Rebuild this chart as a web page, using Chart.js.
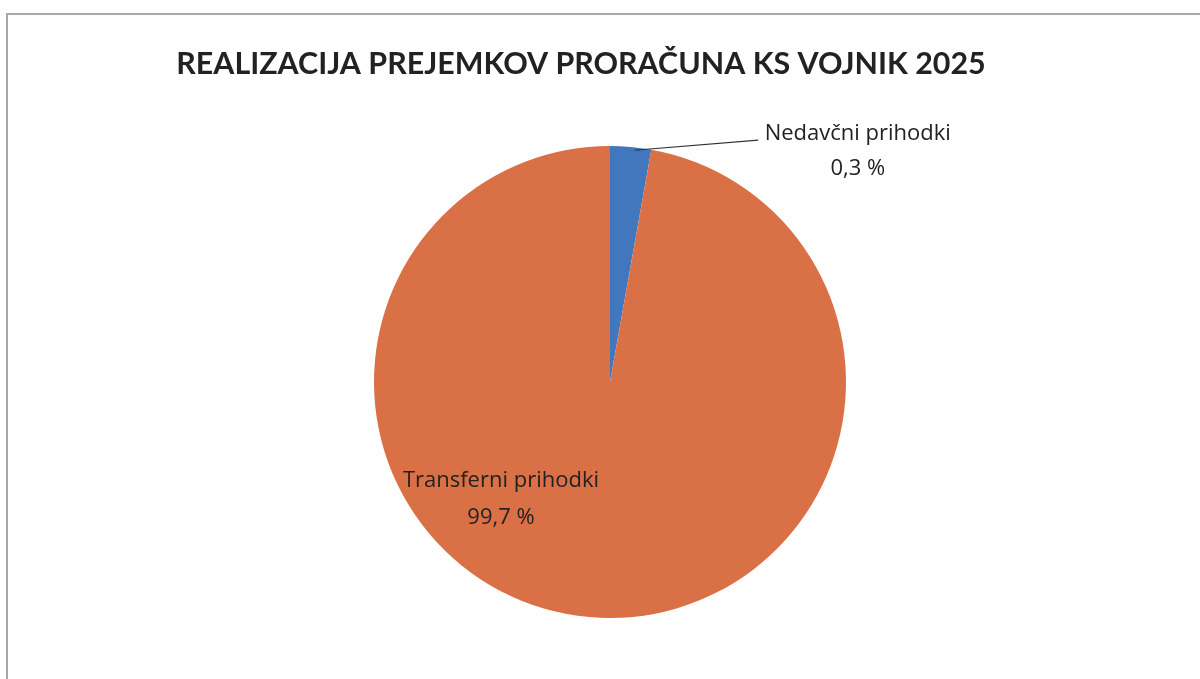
<!DOCTYPE html>
<html>
<head>
<meta charset="utf-8">
<script src="https://cdn.jsdelivr.net/npm/chart.js@4/dist/chart.umd.min.js"></script>
<style>
  html, body { margin: 0; padding: 0; background: #fff; overflow: hidden; }
  #wrap { position: relative; width: 1200px; height: 679px; }
  #frame { position: absolute; left: 6px; top: 13px; right: -10px; bottom: -10px;
           border-left: 2px solid #a8a8a8; border-top: 2px solid #a8a8a8; }
  canvas { position: absolute; left: 0; top: 0; }
</style>
</head>
<body>
<div id="wrap">
  <div id="frame"></div>
  <canvas id="c" width="1200" height="679"></canvas>
</div>
<script>
// ---- data ----
const chartTitle = 'REALIZACIJA PREJEMKOV PRORAČUNA KS VOJNIK 2025';
const categories = ['Nedavčni prihodki', 'Transferni prihodki'];
// slice sizes as drawn in the picture (the small slice spans about 10 degrees)
const sliceValues = [2.8, 97.2];
// percentage labels as printed on the picture
const percentLabels = ['0,3 %', '99,7 %'];
const sliceColors = ['#4277BD', '#DA7045'];

const TITLE_FONT = 'Lato, "Open Sans", sans-serif';
const LABEL_FONT = '"Open Sans", Lato, sans-serif';

const labelPlugin = {
  id: 'labels',
  afterDraw(chart) {
    const ctx = chart.ctx;
    const meta = chart.getDatasetMeta(0);
    const a0 = meta.data[0];
    const cx = a0.x, cy = a0.y, r = a0.outerRadius;
    ctx.save();
    // title
    ctx.fillStyle = '#222222';
    ctx.font = 'bold 30.4px ' + TITLE_FONT;
    ctx.textAlign = 'center';
    ctx.textBaseline = 'middle';
    ctx.fillText(chartTitle, 581, 64);

    // label for small slice with leader line
    const mid0 = (a0.startAngle + a0.endAngle) / 2;
    const px = cx + Math.cos(mid0) * r * 0.99;
    const py = cy + Math.sin(mid0) * r * 0.99;
    const lx = cx + r * 0.628, ly = cy - r * 1.025;
    ctx.strokeStyle = '#333333';
    ctx.lineWidth = 1.2;
    ctx.beginPath();
    ctx.moveTo(px + 4, py + 1);
    ctx.lineTo(lx, ly);
    ctx.stroke();
    ctx.font = '22px ' + LABEL_FONT;
    ctx.fillStyle = '#222222';
    ctx.textAlign = 'center';
    ctx.fillText(categories[0], cx + r * 1.05, cy - r * 1.05);
    ctx.fillText(percentLabels[0], cx + r * 1.05, cy - r * 0.905);

    // label inside the large slice
    ctx.fillText(categories[1], cx - r * 0.462, cy + r * 0.42);
    ctx.fillText(percentLabels[1], cx - r * 0.462, cy + r * 0.575);
    ctx.restore();
  }
};

new Chart(document.getElementById('c'), {
  type: 'pie',
  data: {
    labels: categories,
    datasets: [{
      data: sliceValues,
      backgroundColor: sliceColors,
      borderWidth: 0
    }]
  },
  options: {
    responsive: false,
    animation: false,
    layout: { padding: { top: 146, bottom: 61, left: 310, right: 290 } },
    plugins: {
      legend: { display: false },
      title: { display: false },
      tooltip: { enabled: false }
    }
  },
  plugins: [labelPlugin]
});
</script>
</body>
</html>
